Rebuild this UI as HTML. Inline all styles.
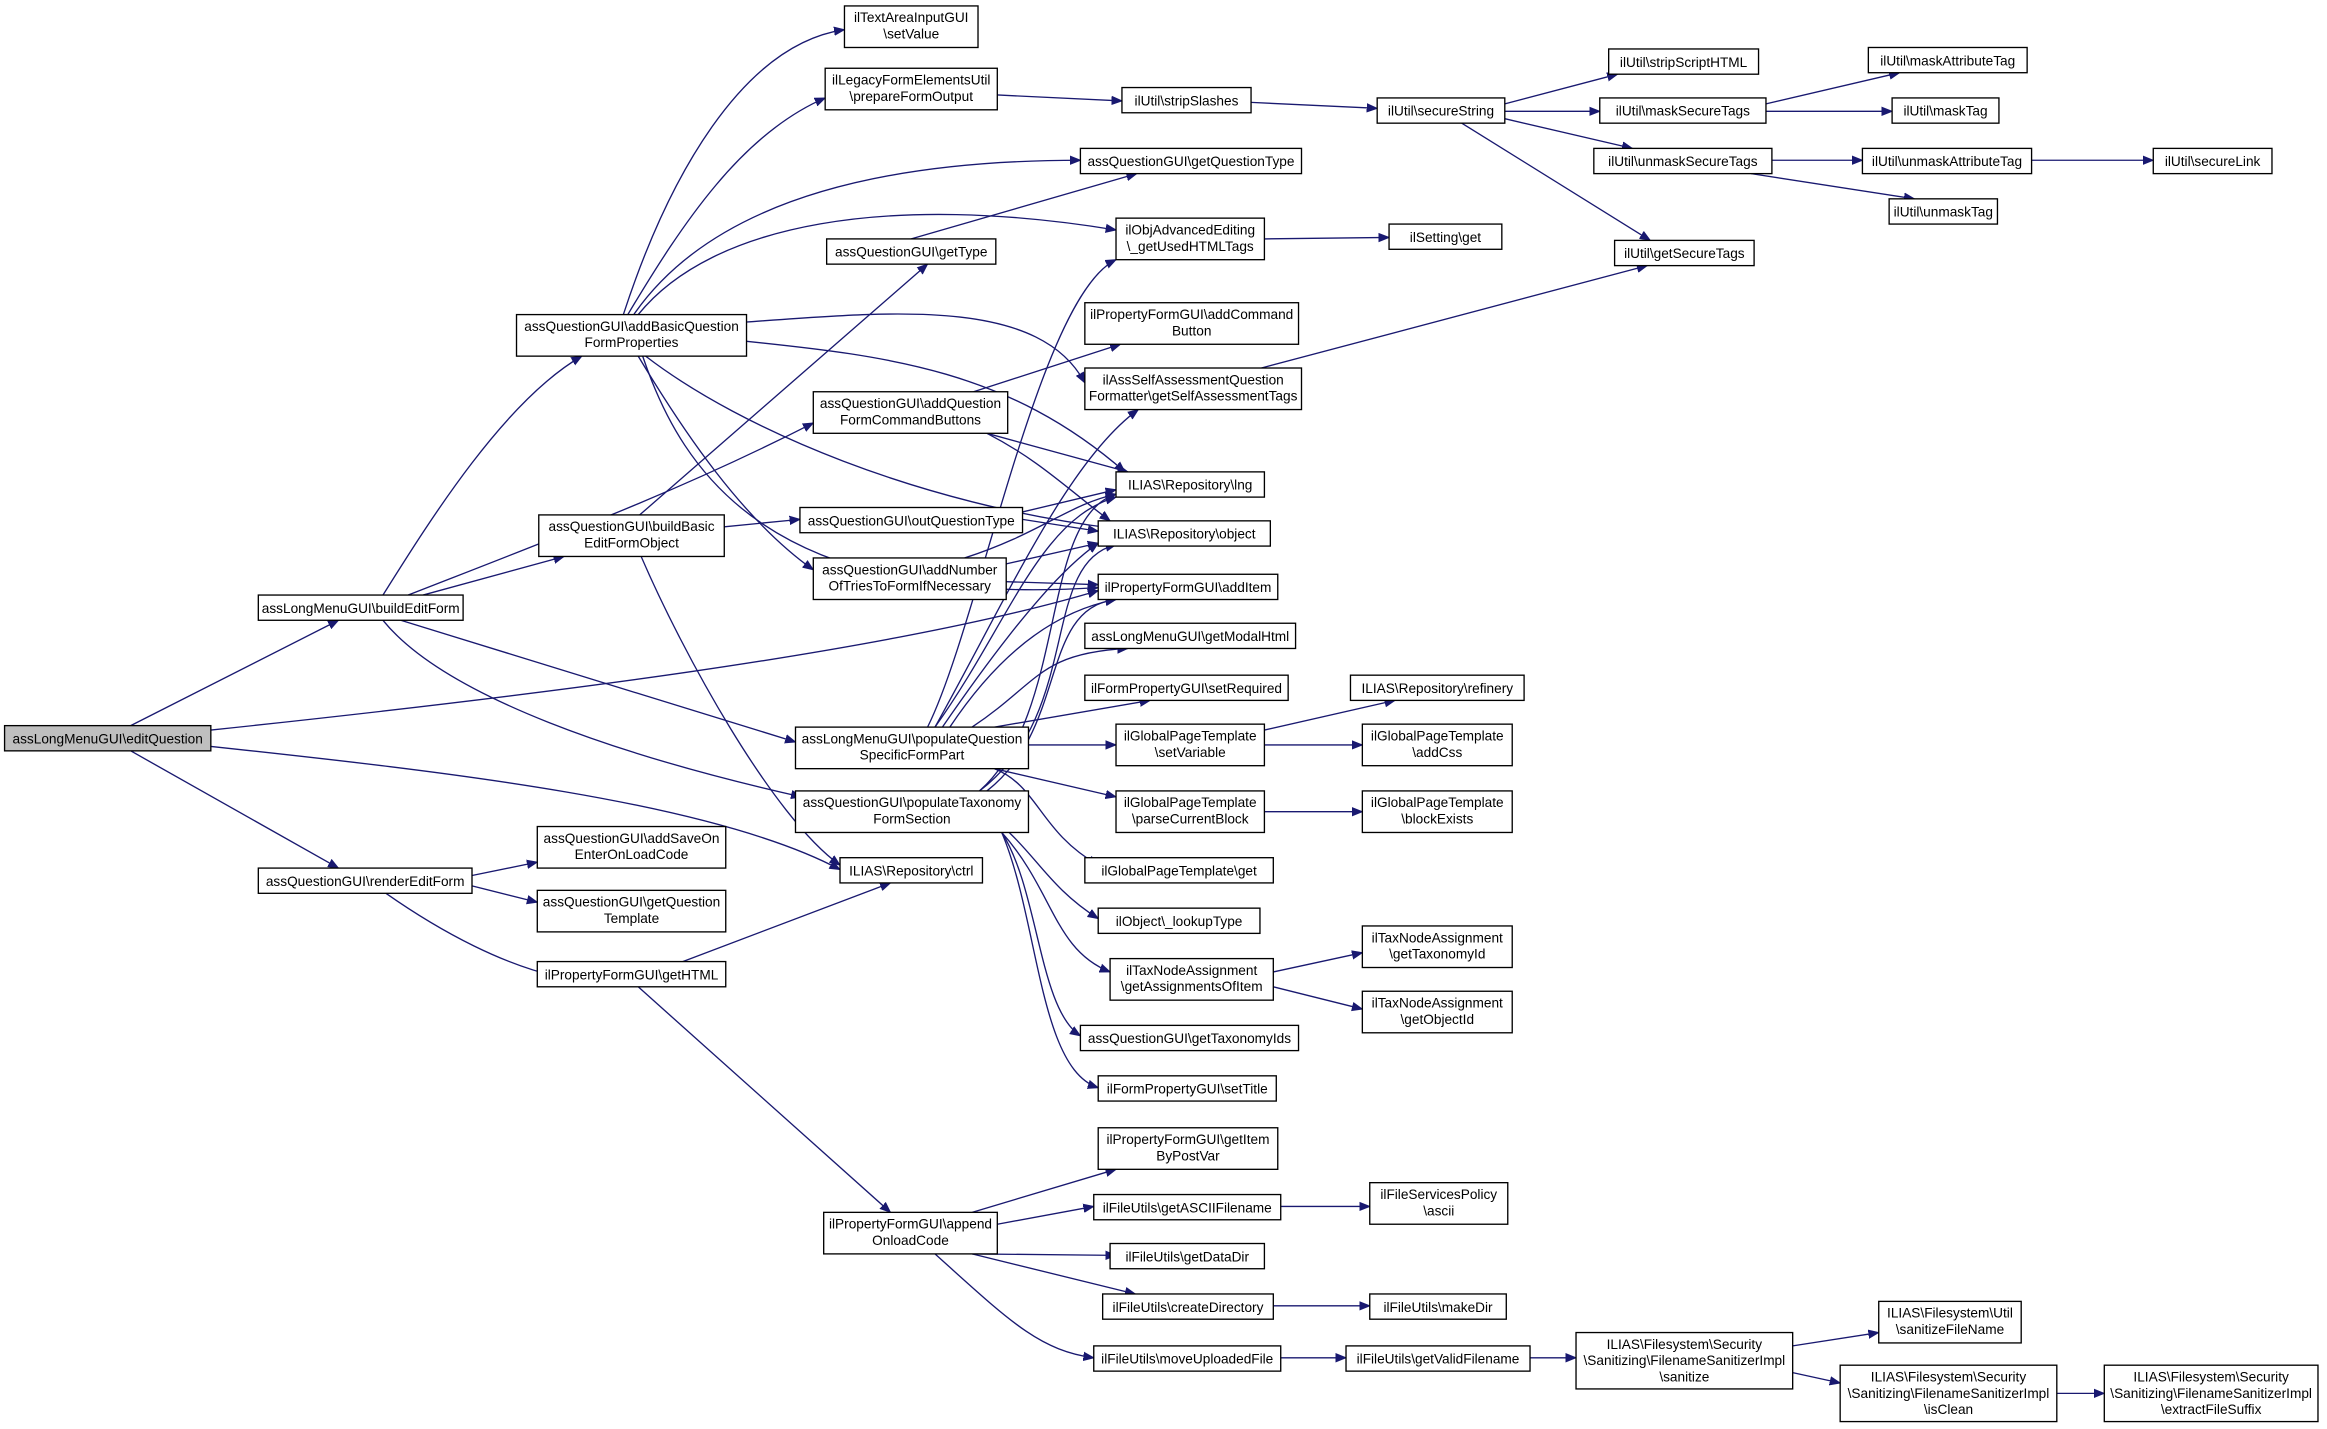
<!DOCTYPE html>
<html><head><meta charset="utf-8"><style>
html,body{margin:0;padding:0;background:#fff;}
svg{display:block}
text{font-family:"Liberation Sans",sans-serif;font-size:9.2px;fill:#000;text-anchor:middle}
rect{fill:#fff;stroke:#000;stroke-width:0.9}
path{fill:none;stroke:#191970;stroke-width:0.9}
</style></head><body>
<svg width="2327" height="1429" viewBox="0 0 1568 963" xmlns="http://www.w3.org/2000/svg">
<defs><marker id="a" viewBox="0 0 10 10" refX="10" refY="5" markerWidth="7" markerHeight="7" orient="auto" markerUnits="userSpaceOnUse"><path d="M0,1 L10,5 L0,9 z" style="fill:#191970;stroke:#191970"/></marker></defs>
<g marker-end="url(#a)">
<path d="M88,489 L228,418"/>
<path d="M88,506 L228,585"/>
<path d="M142,492 C350,470 600,440 740,398"/>
<path d="M142,503 C300,520 480,540 566,586"/>
<path d="M258,401 C290,350 340,270 392,240"/>
<path d="M275,401 C380,360 460,330 548,285"/>
<path d="M285,401 L380,375"/>
<path d="M270,418 L536,500"/>
<path d="M258,418 C300,470 420,510 540,537"/>
<path d="M420,212 C450,120 500,30 569,20"/>
<path d="M423,212 C460,150 500,90 556,66"/>
<path d="M427,212 C470,150 560,108 728,108"/>
<path d="M430,212 C480,150 600,130 752,155"/>
<path d="M503,217 C600,210 700,200 731,258"/>
<path d="M503,230 C600,240 680,250 758,318"/>
<path d="M435,240 C500,290 620,340 750,356"/>
<path d="M433,240 C460,320 520,410 740,396"/>
<path d="M430,240 C460,290 500,350 548,384"/>
<path d="M431,347 L625,178"/>
<path d="M488,355 L539,350"/>
<path d="M432,375 C460,440 520,550 566,583"/>
<path d="M614,161 L766,117"/>
<path d="M656,264 L755,232"/>
<path d="M665,292 L760,318"/>
<path d="M665,292 C700,310 720,330 748,351"/>
<path d="M689,345 L752,330"/>
<path d="M689,350 L740,358"/>
<path d="M650,376 C700,360 720,340 752,333"/>
<path d="M678,380 L740,366"/>
<path d="M678,392 L740,394"/>
<path d="M625,490 C660,420 700,200 752,175"/>
<path d="M630,490 C680,400 720,310 767,276"/>
<path d="M630,490 C680,420 700,350 752,335"/>
<path d="M635,490 C690,410 720,380 740,366"/>
<path d="M640,490 C680,430 720,410 752,404"/>
<path d="M655,490 C700,460 700,440 760,437"/>
<path d="M670,490 L775,472"/>
<path d="M693,502 L752,502"/>
<path d="M670,518 L752,537"/>
<path d="M670,518 C700,530 700,560 740,583"/>
<path d="M660,533 C720,480 700,350 752,333"/>
<path d="M660,533 C730,480 700,380 752,367"/>
<path d="M665,533 C720,490 700,410 752,404"/>
<path d="M680,561 C700,580 710,600 740,619"/>
<path d="M675,561 C710,600 710,640 748,655"/>
<path d="M675,561 C700,600 700,680 728,698"/>
<path d="M675,561 C700,620 700,720 740,733"/>
<path d="M318,590 L362,581"/>
<path d="M318,597 L362,608"/>
<path d="M260,602 C300,630 340,650 375,658"/>
<path d="M460,648 L600,595"/>
<path d="M430,665 L600,817"/>
<path d="M655,817 L752,788"/>
<path d="M672,825 L737,813"/>
<path d="M655,845 L752,846"/>
<path d="M655,845 L765,872"/>
<path d="M630,845 C680,890 700,910 737,915"/>
<path d="M863,813 L923,813"/>
<path d="M858,880 L923,880"/>
<path d="M863,915 L907,915"/>
<path d="M1031,915 L1062,915"/>
<path d="M1208,907 L1266,898"/>
<path d="M1208,925 L1240,932"/>
<path d="M1386,939 L1418,939"/>
<path d="M672,64 L756,68"/>
<path d="M843,69 L928,73"/>
<path d="M1014,70 L1090,50"/>
<path d="M1014,75 L1078,75"/>
<path d="M1014,80 L1100,100"/>
<path d="M985,83 L1112,162"/>
<path d="M1190,70 L1280,49"/>
<path d="M1190,75 L1275,75"/>
<path d="M1194,108 L1255,108"/>
<path d="M1180,117 L1290,134"/>
<path d="M1369,108 L1451,108"/>
<path d="M852,161 L936,160"/>
<path d="M850,248 L1110,179"/>
<path d="M852,492 L940,472"/>
<path d="M852,502 L918,502"/>
<path d="M852,547 L918,547"/>
<path d="M858,655 L918,642"/>
<path d="M858,665 L918,680"/>
</g>
<rect x="3" y="489" width="139" height="17" style="fill:#bfbfbf"/><text x="72.5" y="501">assLongMenuGUI\editQuestion</text>
<rect x="174" y="401" width="138" height="17"/><text x="243" y="413">assLongMenuGUI\buildEditForm</text>
<rect x="174" y="585" width="144" height="17"/><text x="246" y="597">assQuestionGUI\renderEditForm</text>
<rect x="348" y="212" width="155" height="28"/><text x="425.5" y="223">assQuestionGUI\addBasicQuestion</text><text x="425.5" y="234">FormProperties</text>
<rect x="363" y="347" width="125" height="28"/><text x="425.5" y="358">assQuestionGUI\buildBasic</text><text x="425.5" y="369">EditFormObject</text>
<rect x="362" y="557" width="127" height="28"/><text x="425.5" y="568">assQuestionGUI\addSaveOn</text><text x="425.5" y="579">EnterOnLoadCode</text>
<rect x="362" y="600" width="127" height="28"/><text x="425.5" y="611">assQuestionGUI\getQuestion</text><text x="425.5" y="622">Template</text>
<rect x="362" y="648" width="127" height="17"/><text x="425.5" y="660">ilPropertyFormGUI\getHTML</text>
<rect x="555" y="817" width="117" height="28"/><text x="613.5" y="828">ilPropertyFormGUI\append</text><text x="613.5" y="839">OnloadCode</text>
<rect x="566" y="578" width="96" height="17"/><text x="614" y="590">ILIAS\Repository\ctrl</text>
<rect x="536" y="533" width="157" height="28"/><text x="614.5" y="544">assQuestionGUI\populateTaxonomy</text><text x="614.5" y="555">FormSection</text>
<rect x="536" y="490" width="157" height="28"/><text x="614.5" y="501">assLongMenuGUI\populateQuestion</text><text x="614.5" y="512">SpecificFormPart</text>
<rect x="539" y="342" width="150" height="17"/><text x="614" y="354">assQuestionGUI\outQuestionType</text>
<rect x="548" y="376" width="130" height="28"/><text x="613" y="387">assQuestionGUI\addNumber</text><text x="613" y="398">OfTriesToFormIfNecessary</text>
<rect x="548" y="264" width="131" height="28"/><text x="613.5" y="275">assQuestionGUI\addQuestion</text><text x="613.5" y="286">FormCommandButtons</text>
<rect x="557" y="161" width="114" height="17"/><text x="614" y="173">assQuestionGUI\getType</text>
<rect x="556" y="46" width="116" height="28"/><text x="614" y="57">ilLegacyFormElementsUtil</text><text x="614" y="68">\prepareFormOutput</text>
<rect x="569" y="4" width="90" height="28"/><text x="614" y="15">ilTextAreaInputGUI</text><text x="614" y="26">\setValue</text>
<rect x="728" y="100" width="149" height="17"/><text x="802.5" y="112">assQuestionGUI\getQuestionType</text>
<rect x="752" y="147" width="100" height="28"/><text x="802" y="158">ilObjAdvancedEditing</text><text x="802" y="169">\_getUsedHTMLTags</text>
<rect x="731" y="204" width="144" height="28"/><text x="803" y="215">ilPropertyFormGUI\addCommand</text><text x="803" y="226">Button</text>
<rect x="731" y="248" width="146" height="28"/><text x="804" y="259">ilAssSelfAssessmentQuestion</text><text x="804" y="270">Formatter\getSelfAssessmentTags</text>
<rect x="752" y="318" width="100" height="17"/><text x="802" y="330">ILIAS\Repository\lng</text>
<rect x="740" y="351" width="116" height="17"/><text x="798" y="363">ILIAS\Repository\object</text>
<rect x="740" y="387" width="121" height="17"/><text x="800.5" y="399">ilPropertyFormGUI\addItem</text>
<rect x="731" y="420" width="142" height="17"/><text x="802" y="432">assLongMenuGUI\getModalHtml</text>
<rect x="731" y="455" width="137" height="17"/><text x="799.5" y="467">ilFormPropertyGUI\setRequired</text>
<rect x="752" y="488" width="100" height="28"/><text x="802" y="499">ilGlobalPageTemplate</text><text x="802" y="510">\setVariable</text>
<rect x="752" y="533" width="100" height="28"/><text x="802" y="544">ilGlobalPageTemplate</text><text x="802" y="555">\parseCurrentBlock</text>
<rect x="731" y="578" width="127" height="17"/><text x="794.5" y="590">ilGlobalPageTemplate\get</text>
<rect x="740" y="612" width="109" height="17"/><text x="794.5" y="624">ilObject\_lookupType</text>
<rect x="748" y="646" width="110" height="28"/><text x="803" y="657">ilTaxNodeAssignment</text><text x="803" y="668">\getAssignmentsOfItem</text>
<rect x="728" y="691" width="147" height="17"/><text x="801.5" y="703">assQuestionGUI\getTaxonomyIds</text>
<rect x="740" y="725" width="120" height="17"/><text x="800" y="737">ilFormPropertyGUI\setTitle</text>
<rect x="740" y="760" width="121" height="28"/><text x="800.5" y="771">ilPropertyFormGUI\getItem</text><text x="800.5" y="782">ByPostVar</text>
<rect x="737" y="805" width="126" height="17"/><text x="800" y="817">ilFileUtils\getASCIIFilename</text>
<rect x="748" y="838" width="104" height="17"/><text x="800" y="850">ilFileUtils\getDataDir</text>
<rect x="743" y="872" width="115" height="17"/><text x="800.5" y="884">ilFileUtils\createDirectory</text>
<rect x="737" y="907" width="126" height="17"/><text x="800" y="919">ilFileUtils\moveUploadedFile</text>
<rect x="923" y="797" width="93" height="28"/><text x="969.5" y="808">ilFileServicesPolicy</text><text x="969.5" y="819">\ascii</text>
<rect x="923" y="872" width="92" height="17"/><text x="969" y="884">ilFileUtils\makeDir</text>
<rect x="907" y="907" width="124" height="17"/><text x="969" y="919">ilFileUtils\getValidFilename</text>
<rect x="1062" y="898" width="146" height="38"/><text x="1135" y="909">ILIAS\Filesystem\Security</text><text x="1135" y="920">\Sanitizing\FilenameSanitizerImpl</text><text x="1135" y="931">\sanitize</text>
<rect x="1266" y="877" width="96" height="28"/><text x="1314" y="888">ILIAS\Filesystem\Util</text><text x="1314" y="899">\sanitizeFileName</text>
<rect x="1240" y="920" width="146" height="38"/><text x="1313" y="931">ILIAS\Filesystem\Security</text><text x="1313" y="942">\Sanitizing\FilenameSanitizerImpl</text><text x="1313" y="953">\isClean</text>
<rect x="1418" y="920" width="144" height="38"/><text x="1490" y="931">ILIAS\Filesystem\Security</text><text x="1490" y="942">\Sanitizing\FilenameSanitizerImpl</text><text x="1490" y="953">\extractFileSuffix</text>
<rect x="936" y="151" width="76" height="17"/><text x="974" y="163">ilSetting\get</text>
<rect x="756" y="59" width="87" height="17"/><text x="799.5" y="71">ilUtil\stripSlashes</text>
<rect x="928" y="66" width="86" height="17"/><text x="971" y="78">ilUtil\secureString</text>
<rect x="1084" y="33" width="101" height="17"/><text x="1134.5" y="45">ilUtil\stripScriptHTML</text>
<rect x="1078" y="66" width="112" height="17"/><text x="1134" y="78">ilUtil\maskSecureTags</text>
<rect x="1074" y="100" width="120" height="17"/><text x="1134" y="112">ilUtil\unmaskSecureTags</text>
<rect x="1088" y="162" width="94" height="17"/><text x="1135" y="174">ilUtil\getSecureTags</text>
<rect x="1259" y="32" width="107" height="17"/><text x="1312.5" y="44">ilUtil\maskAttributeTag</text>
<rect x="1275" y="66" width="72" height="17"/><text x="1311" y="78">ilUtil\maskTag</text>
<rect x="1255" y="100" width="114" height="17"/><text x="1312" y="112">ilUtil\unmaskAttributeTag</text>
<rect x="1273" y="134" width="73" height="17"/><text x="1309.5" y="146">ilUtil\unmaskTag</text>
<rect x="1451" y="100" width="80" height="17"/><text x="1491" y="112">ilUtil\secureLink</text>
<rect x="910" y="455" width="117" height="17"/><text x="968.5" y="467">ILIAS\Repository\refinery</text>
<rect x="918" y="488" width="101" height="28"/><text x="968.5" y="499">ilGlobalPageTemplate</text><text x="968.5" y="510">\addCss</text>
<rect x="918" y="533" width="101" height="28"/><text x="968.5" y="544">ilGlobalPageTemplate</text><text x="968.5" y="555">\blockExists</text>
<rect x="918" y="624" width="101" height="28"/><text x="968.5" y="635">ilTaxNodeAssignment</text><text x="968.5" y="646">\getTaxonomyId</text>
<rect x="918" y="668" width="101" height="28"/><text x="968.5" y="679">ilTaxNodeAssignment</text><text x="968.5" y="690">\getObjectId</text>
</svg>
</body></html>
